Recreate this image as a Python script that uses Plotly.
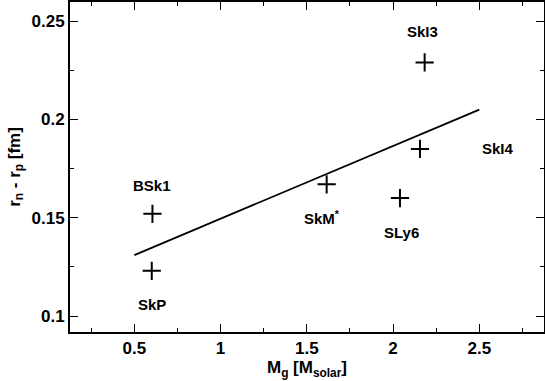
import plotly.graph_objects as go

# данные: масса (M_solar) и толщина нейтронной кожи (fm)
models = ["BSk1", "SkP", "SkM<sup>*</sup>", "SLy6", "SkI4", "SkI3"]
mass = [0.605, 0.601, 1.615, 2.04, 2.156, 2.183]
skin = [0.152, 0.123, 0.167, 0.160, 0.185, 0.229]

# линейная подгонка (концы линии)
fit_x = [0.5, 2.5]
fit_y = [0.131, 0.205]

# где подписи относительно точек
label_x = [0.605, 0.601, 1.59, 2.05, 2.61, 2.17]
label_y = [0.1665, 0.106, 0.150, 0.1425, 0.185, 0.2445]

FONT = "Liberation Sans"

fig = go.Figure()
fig.add_trace(go.Scatter(
    x=fit_x, y=fit_y, mode="lines",
    line=dict(color="black", width=1.8),
    showlegend=False, hoverinfo="skip",
))
fig.add_trace(go.Scatter(
    x=mass, y=skin, mode="markers",
    marker=dict(symbol="cross-thin", size=13, line=dict(color="black", width=2)),
    showlegend=False,
))

for name, lx, ly in zip(models, label_x, label_y):
    fig.add_annotation(
        x=lx, y=ly, text=name, showarrow=False,
        font=dict(family=FONT, size=15, color="black", weight=700),
    )

axis_common = dict(
    showgrid=False, zeroline=False, showline=True, linecolor="black", linewidth=2,
    mirror="allticks", ticks="inside", ticklen=8, tickwidth=1.2, tickcolor="black",
    tickfont=dict(family=FONT, size=17, color="black", weight=700),
    minor=dict(ticks="inside", ticklen=4, tickwidth=1.2, tickcolor="black", showgrid=False),
    automargin=False,
)

fig.update_xaxes(
    range=[0.127, 2.875], tick0=0.5, dtick=0.5, minor_dtick=0.25,
    title=dict(text="M<sub>g</sub> [M<sub>solar</sub>]", standoff=0,
               font=dict(family=FONT, size=17, color="black", weight=700)),
    **axis_common,
)
fig.update_yaxes(
    range=[0.0919, 0.2597], tick0=0.1, dtick=0.05, minor_dtick=0.025,
    title=dict(text="r<sub>n</sub> - r<sub>p</sub> [fm]", standoff=7,
               font=dict(family=FONT, size=17, color="black", weight=700)),
    **axis_common,
)

fig.update_layout(
    width=545, height=381,
    margin=dict(l=70, r=1, t=2, b=49),
    plot_bgcolor="white", paper_bgcolor="white",
)

# у страницы по умолчанию отступ 8px — убираем, чтобы график лёг ровно в окно
fig.write_html("out.html", config={"displayModeBar": False},
               post_script="document.body.style.margin='0';")
